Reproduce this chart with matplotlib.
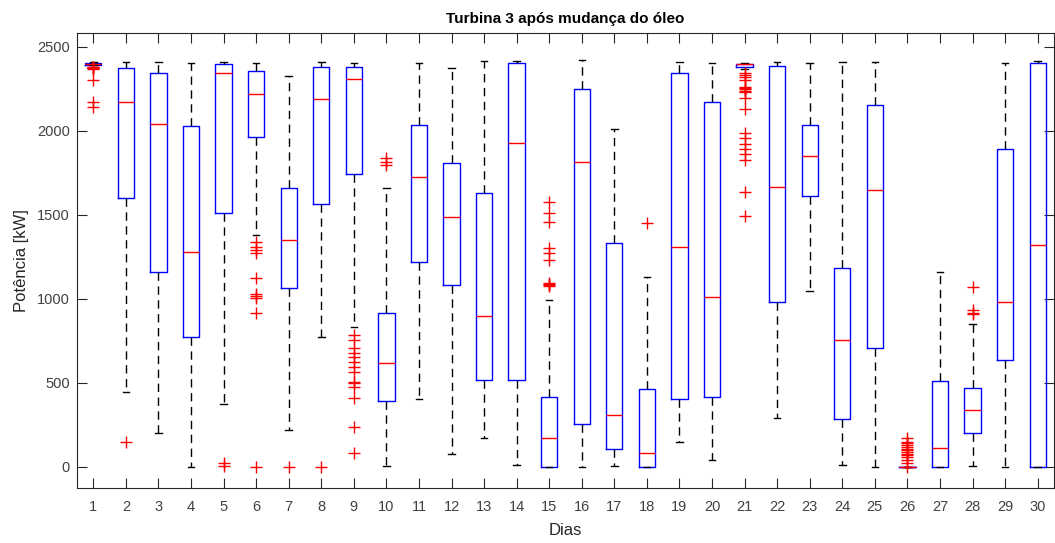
import numpy as np
import matplotlib.pyplot as plt

plt.rcParams['font.family'] = ['Liberation Sans', 'DejaVu Sans']

# dias e estatisticas (kW)
dias = list(range(1, 31))
whishi = [2408, 2409, 2409, 2403, 2409, 2403, 2327, 2409, 2403, 1659,
          2403, 2373, 2419, 2417, 994, 2423, 2010, 1129, 2409, 2407,
          2403, 2409, 2403, 2409, 2409, 0, 1159, 851, 2403, 2417]
q3 = [2405, 2373, 2347, 2030, 2397, 2359, 1659, 2381, 2381, 915,
      2038, 1808, 1629, 2407, 419, 2248, 1331, 464, 2347, 2175,
      2399, 2389, 2038, 1183, 2157, 0, 512, 472, 1891, 2403]
med = [2400, 2175, 2040, 1278, 2345, 2218, 1351, 2188, 2308, 617,
       1728, 1486, 899, 1927, 175, 1815, 308, 85, 1308, 1010,
       2397, 1667, 1851, 756, 1649, 0, 115, 339, 980, 1321]
q1 = [2395, 1599, 1159, 772, 1510, 1964, 1063, 1563, 1742, 393,
      1218, 1083, 518, 518, 2, 256, 107, 2, 405, 419,
      2383, 980, 1615, 286, 710, 0, 2, 204, 637, 0]
whislo = [2390, 444, 204, 0, 375, 1381, 220, 772, 831, 6,
          405, 77, 171, 12, 0, 0, 6, 0, 151, 42,
          2367, 294, 1048, 12, 2, 0, 2, 6, 2, 0]
outliers = [
    [2382, 2378, 2375, 2372, 2369, 2304, 2175, 2141],
    [151],
    [],
    [],
    [26, 6],
    [1341, 1311, 1292, 1276, 1123, 1030, 1020, 1005, 915, 0],
    [0],
    [0],
    [786, 756, 706, 677, 653, 627, 597, 563, 508, 498, 478, 409, 240, 81],
    [1837, 1815, 1798],
    [], [], [], [],
    [1579, 1510, 1456, 1302, 1272, 1232, 1095, 1088, 1082, 1077],
    [], [],
    [1450],
    [], [],
    [2343, 2330, 2318, 2304, 2264, 2255, 2248, 2240, 2234, 2194, 2129,
     1986, 1955, 1925, 1895, 1860, 1827, 1639, 1494],
    [], [], [], [],
    [171, 151, 140, 130, 120, 110, 100, 90, 80, 70, 60, 42, 22, 2],
    [],
    [1069, 935, 919, 911],
    [], [],
]

stats = []
for i in range(len(dias)):
    stats.append({'med': med[i], 'q1': q1[i], 'q3': q3[i],
                  'whislo': whislo[i], 'whishi': whishi[i],
                  'fliers': outliers[i]})

fig = plt.figure(figsize=(10.55, 5.43), dpi=100)
ax = fig.add_axes([0.073, 0.1013, 0.926, 0.838])

ax.bxp(stats, positions=dias, widths=0.5, showfliers=True,
       boxprops=dict(color='#0000ff', linewidth=1.0),
       medianprops=dict(color='#ff0000', linewidth=1.0),
       whiskerprops=dict(color='black', linewidth=1.0, linestyle=(0, (6, 4))),
       capprops=dict(color='black', linewidth=1.0),
       capwidths=0.2,
       flierprops=dict(marker='+', markeredgecolor='#ff0000', markersize=8,
                       linestyle='none', markeredgewidth=1.0))

ax.set_xlim(0.5, 30.5)
ax.set_ylim(-125, 2583)
ax.set_xticks(dias)
ax.set_xticklabels([str(d) for d in dias])
ax.set_yticks([0, 500, 1000, 1500, 2000, 2500])

ax.tick_params(direction='in', top=True, right=True, length=7,
               labelsize=10.5, colors='#262626', labelcolor='#404040')
ax.tick_params(axis='x', pad=9)
ax.tick_params(axis='y', pad=5)
for s in ax.spines.values():
    s.set_color('#262626')
    s.set_linewidth(0.8)

ax.set_title('Turbina 3 após mudança do óleo', fontsize=11, fontweight='bold', pad=7)
ax.set_ylabel('Potência [kW]', fontsize=12, color='#262626', labelpad=6)
ax.set_xlabel('Dias', fontsize=12, color='#262626', labelpad=6)

fig.savefig('out.png', dpi=100)
